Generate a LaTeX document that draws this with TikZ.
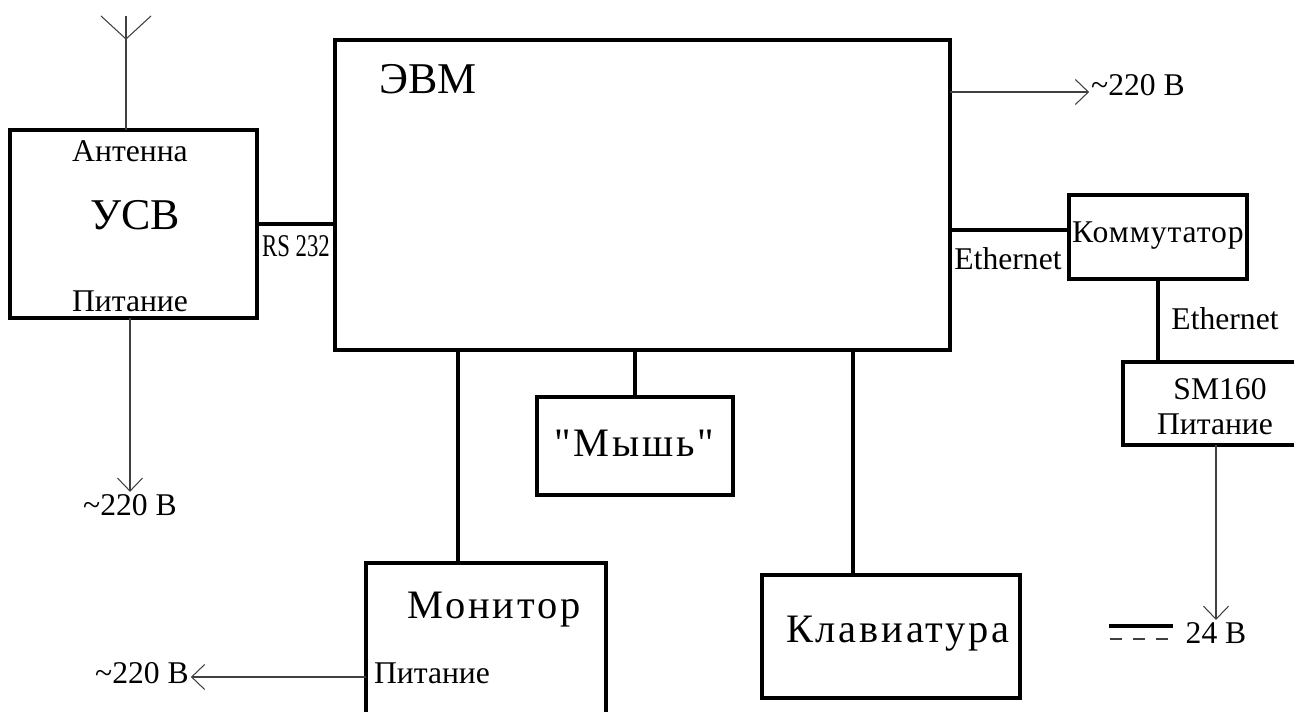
\documentclass[tikz,border=0pt]{standalone}
\usepackage{fontspec}
\setmainfont{Liberation Serif}
\newfontfamily\spacedfont[LetterSpace=7]{Liberation Serif}
\newfontfamily\lightspaced[LetterSpace=3]{Liberation Serif}
\usetikzlibrary{arrows.meta}

\tikzset{
  box/.style={draw, line width=2.3pt, inner sep=0pt, outer sep=0pt},
  link/.style={line width=2.3pt},
  thinline/.style={draw=black!75, line width=0.6pt},
  feed/.style={thinline, -{Straight Barb[length=2.6mm,width=5mm]}},
  txt/.style={font=\fontsize{18}{20}\selectfont, inner sep=1pt, anchor=base},
  bigtxt/.style={font=\fontsize{25}{28}\selectfont, inner sep=0pt, anchor=base},
  midtxt/.style={font=\spacedfont\fontsize{23}{26}\selectfont, inner sep=0pt, anchor=base},
}

\begin{document}
\begin{tikzpicture}[x=0.02cm, y=-0.02cm]
\useasboundingbox (0,0) rectangle (1294,712);
\clip (0,0) rectangle (1294,712);
\node[box, minimum width=4.94cm, minimum height=3.76cm] (usv) at (133.5,224) {};
\node[box, minimum width=12.3cm, minimum height=6.2cm] (evm) at (642.5,195) {};
\node[box, minimum width=3.56cm, minimum height=1.68cm] (komm) at (1158,237) {};
\node[box, minimum width=3.54cm, minimum height=1.66cm] (sm) at (1211.5,403.5) {};
\node[box, minimum width=3.92cm, minimum height=1.96cm] (mysh) at (635,446) {};
\node[box, minimum width=4.8cm, minimum height=3.06cm] (mon) at (486,639.5) {};
\node[box, minimum width=5.16cm, minimum height=2.46cm] (klav) at (891,636.5) {};

\node[bigtxt] (evmname) at (428,94) {ЭВМ};
\node[bigtxt] (usvname) at (135,230) {УСВ};
\node[txt] (antname) at (130,162) {Антенна};
\node[txt] (usvpwr) at (130,312) {Питание};
\node[txt] (rs) at (296,257) {\scalebox{0.72}[1]{RS 232}};
\node[txt] (v1) at (130,515) {\textasciitilde220 В};
\node[txt] (v2) at (1138,96) {\textasciitilde220 В};
\node[txt] (eth1) at (1008,270) {Ethernet};
\node[txt, font=\lightspaced\fontsize{18}{20}\selectfont] (kommname) at (1158,243) {Коммутатор};
\node[txt] (eth2) at (1225,330) {Ethernet};
\node[txt] (smname) at (1220,400) {SM160};
\node[txt] (smpwr) at (1215,435) {Питание};
\node[txt] (v24) at (1216,643) {24 В};
\node[midtxt] (myshname) at (634,457) {"Мышь"};
\node[midtxt] (monname) at (494,618) {Монитор};
\node[txt] (monpwr) at (432,683) {Питание};
\node[txt] (v3) at (142,683) {\textasciitilde220 В};
\node[midtxt] (klavname) at (898,642) {Клавиатура};

\coordinate (anttop) at (126,39);
\draw[thinline] (usv.north -| anttop) -- (anttop) -- ++(0,-23);
\draw[thinline] (anttop) -- ++(-25,-23) (anttop) -- ++(25,-23);
\draw[link] (usv.east) -- (usv.east -| evm.west);
\coordinate (ethy) at (0,230);
\draw[link] (evm.east |- ethy) -- (komm.west |- ethy);
\draw[link] (komm.south) -- (komm.south |- sm.north);
\draw[link] (mysh.north) -- (mysh.north |- evm.south);
\coordinate (montap) at (458,0);
\draw[link] (evm.south -| montap) -- (mon.north -| montap);
\coordinate (klavtap) at (853,0);
\draw[link] (evm.south -| klavtap) -- (klav.north -| klavtap);

\draw[feed] (usv.south -| v1.north) -- (v1.north);
\coordinate (feedy) at (0,92);
\draw[feed] (evm.east |- feedy) -- (v2.west |- feedy);
\draw[feed] (sm.south -| v24.north) -- (v24.north);
\coordinate (mony) at (0,677);
\draw[feed] (mon.west |- mony) -- (v3.east |- mony);
\draw[link] (1109,626) -- (1173,626);
\draw[thinline, dash pattern=on 6.8pt off 6.2pt] (1110,639) -- (1173,639);
\end{tikzpicture}
\end{document}
